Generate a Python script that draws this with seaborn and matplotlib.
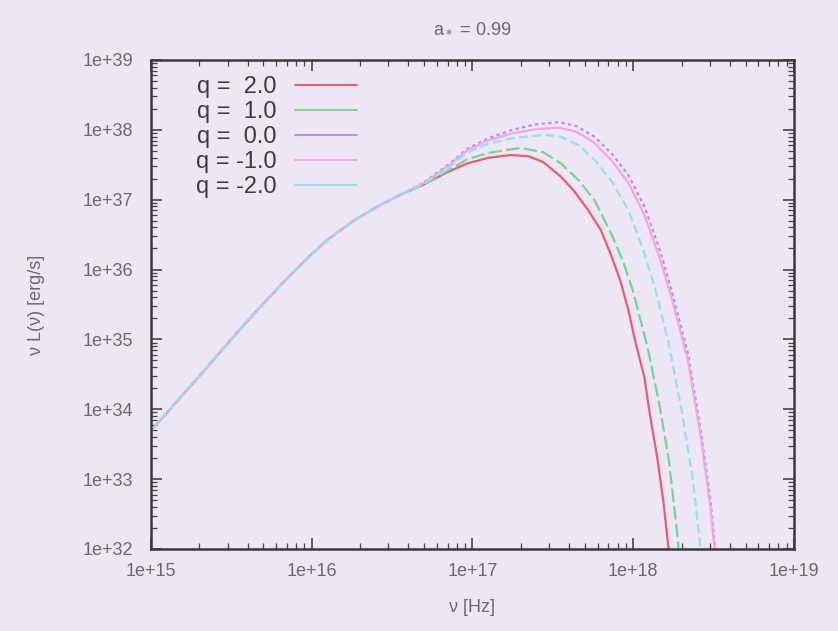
import numpy as np
import pandas as pd
import seaborn as sns
import matplotlib
matplotlib.use("Agg")
import matplotlib.pyplot as plt
from matplotlib.ticker import LogLocator, FuncFormatter, NullFormatter

# log10 of frequency [Hz] and log10 of nu L(nu) [erg/s]
shared_lognu = [15.0, 15.3, 15.5, 15.65, 15.85, 16.0, 16.1, 16.25, 16.4, 16.56]
shared_logL = [33.69, 34.47, 35.0, 35.39, 35.88, 36.22, 36.43, 36.68, 36.89, 37.08]

lognu_q2 = [16.7, 16.85, 16.97, 17.1, 17.24, 17.35, 17.44, 17.55, 17.63, 17.72,
            17.80, 17.86, 17.92, 17.97, 18.01, 18.07, 18.10, 18.15, 18.19, 18.22, 18.24]
logL_q2 = [37.22, 37.40, 37.52, 37.60, 37.64, 37.62, 37.54, 37.33, 37.13, 36.85,
           36.56, 36.22, 35.84, 35.42, 35.0, 34.45, 33.98, 33.30, 32.64, 32.0, 31.7]

lognu_q1 = [16.7, 16.85, 16.97, 17.1, 17.3, 17.44, 17.55, 17.66, 17.76, 17.87,
            17.94, 18.0, 18.09, 18.16, 18.22, 18.27, 18.29]
logL_q1 = [37.22, 37.42, 37.58, 37.67, 37.74, 37.68, 37.52, 37.28, 36.99, 36.48,
           36.1, 35.68, 34.88, 34.1, 33.3, 32.3, 31.8]

lognu_q0 = [16.7, 16.85, 16.97, 17.1, 17.25, 17.4, 17.54, 17.65, 17.76, 17.87,
            17.97, 18.07, 18.17, 18.25, 18.34, 18.42, 18.48, 18.51, 18.53]
logL_q0 = [37.25, 37.50, 37.73, 37.88, 38.0, 38.08, 38.11, 38.05, 37.90, 37.65,
           37.35, 36.90, 36.25, 35.60, 34.80, 33.70, 32.70, 32.0, 31.6]

lognu_qm1 = [16.7, 16.85, 16.97, 17.1, 17.25, 17.4, 17.54, 17.65, 17.76, 17.87,
             17.97, 18.07, 18.17, 18.25, 18.34, 18.42, 18.48, 18.51, 18.53]
logL_qm1 = [37.24, 37.48, 37.71, 37.85, 37.95, 38.01, 38.03, 37.97, 37.81, 37.55,
            37.24, 36.78, 36.13, 35.50, 34.70, 33.60, 32.60, 31.9, 31.6]

lognu_qm2 = [16.7, 16.85, 16.97, 17.1, 17.25, 17.45, 17.55, 17.66, 17.76, 17.87,
             17.97, 18.06, 18.14, 18.22, 18.30, 18.37, 18.42, 18.44]
logL_qm2 = [37.23, 37.45, 37.68, 37.80, 37.88, 37.93, 37.90, 37.78, 37.57, 37.25,
            36.85, 36.30, 35.70, 34.95, 34.0, 33.0, 32.0, 31.6]

labels = ["q =  2.0", "q =  1.0", "q =  0.0", "q = -1.0", "q = -2.0"]
colors = ["#ec5a6c", "#74d68e", "#b58ef0", "#f3a6e6", "#8fe3f2"]
dashes = ["", (6, 2), (1.5, 1.5), "", (4, 2)]

series = [(lognu_q2, logL_q2), (lognu_q1, logL_q1), (lognu_q0, logL_q0),
          (lognu_qm1, logL_qm1), (lognu_qm2, logL_qm2)]

frames = []
for lab, (xs, ys) in zip(labels, series):
    lx = shared_lognu + xs
    ly = shared_logL + ys
    frames.append(pd.DataFrame({"nu": 10.0 ** np.array(lx),
                                "L": 10.0 ** np.array(ly),
                                "q": lab}))
df = pd.concat(frames, ignore_index=True)

bg = "#ede6f4"
sns.set_theme(style="ticks")
plt.rcParams["font.family"] = ["Liberation Sans", "DejaVu Sans"]

fig = plt.figure(figsize=(8.38, 6.31), dpi=100, facecolor=bg)
ax = fig.add_axes([0.180, 0.130, 0.7675, 0.775])
ax.set_facecolor(bg)

sns.lineplot(data=df, x="nu", y="L", hue="q", style="q",
             palette=dict(zip(labels, colors)),
             dashes=dict(zip(labels, dashes)),
             estimator=None, sort=False, linewidth=1.6, ax=ax)

ax.set_xscale("log")
ax.set_yscale("log")
ax.set_xlim(1e15, 1e19)
ax.set_ylim(1e32, 1e39)

fmt = FuncFormatter(lambda v, _: f"{v:.0e}")
ax.xaxis.set_major_locator(LogLocator(base=10, numticks=10))
ax.yaxis.set_major_locator(LogLocator(base=10, numticks=10))
ax.xaxis.set_minor_locator(LogLocator(base=10, subs=np.arange(2, 10), numticks=20))
ax.yaxis.set_minor_locator(LogLocator(base=10, subs=np.arange(2, 10), numticks=20))
ax.xaxis.set_major_formatter(fmt)
ax.yaxis.set_major_formatter(fmt)
ax.xaxis.set_minor_formatter(NullFormatter())
ax.yaxis.set_minor_formatter(NullFormatter())

ax.tick_params(which="both", direction="in", top=True, right=True,
               color="#444444", labelsize=13, labelcolor="#6a6a6a")
ax.tick_params(which="major", length=8, width=1.2)
ax.tick_params(axis="x", which="major", pad=10)
ax.tick_params(axis="y", which="major", pad=13)
ax.tick_params(which="minor", length=4, width=0.9)
for s in ax.spines.values():
    s.set_color("#3a3a3a")
    s.set_linewidth(1.8)

ax.set_xlabel("ν [Hz]", fontsize=13, color="#6a6a6a", labelpad=14)
ax.set_ylabel("ν L(ν) [erg/s]", fontsize=13, color="#6a6a6a", labelpad=27)
ax.set_title("a$_*$ = 0.99", fontsize=13, color="#6a6a6a", pad=20)

leg = ax.legend(loc="upper left", bbox_to_anchor=(0.045, 1.0), frameon=False,
                markerfirst=False, fontsize=17, handlelength=2.65,
                labelspacing=0.12, handletextpad=0.75, borderaxespad=0.3)
for t in leg.get_texts():
    t.set_color("#3c3c3c")
for h in leg.get_lines():
    h.set_linestyle("-")
    h.set_linewidth(1.4)

fig.savefig("out.png", dpi=100, facecolor=bg)
